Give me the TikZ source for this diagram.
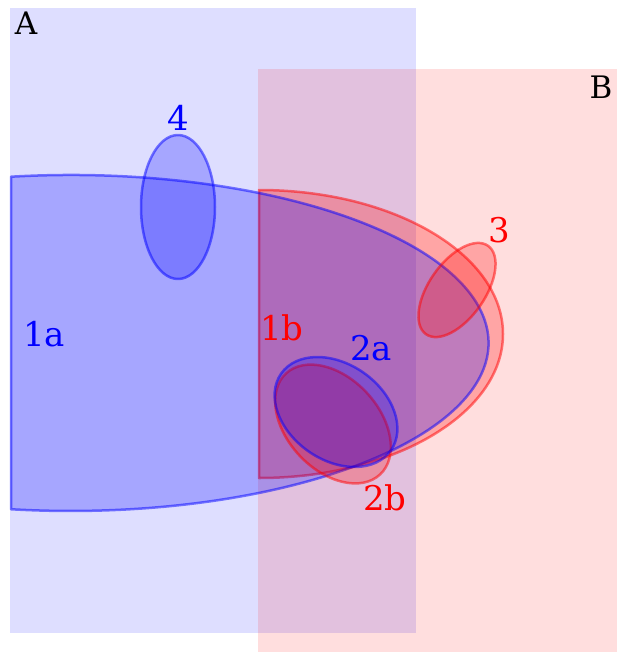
\documentclass[tikz,border=0pt]{standalone}
\usepackage{fontspec}
\setmainfont{DejaVu Serif}
\usepackage{tikz}
\usetikzlibrary{positioning}

\begin{document}
\begin{tikzpicture}[x=1pt, y=-1pt,
    setA/.style={fill=blue, fill opacity=0.13},
    setB/.style={fill=red, fill opacity=0.13},
    blueblob/.style={draw=blue, fill=blue, fill opacity=0.25, draw opacity=0.5, line width=2.5pt, line join=round},
    redblob/.style={draw=red, fill=red, fill opacity=0.26, draw opacity=0.5, line width=2.5pt, line join=round},
    lab/.style={anchor=base, inner sep=0pt, font=\fontsize{34}{34}\selectfont}]
  \useasboundingbox (0,0) rectangle (624,653);

  % the two sets
  \fill[setA] (10,8) rectangle (416,633);
  \fill[setB] (258,69) rectangle (617,652);
  \node[lab, font=\fontsize{31}{31}\selectfont] (labA) at (26,34) {A};
  \node[lab, font=\fontsize{31}{31}\selectfont] (labB) at (601,98) {B};

  % regions
  \draw[redblob] (259,190) arc[start angle=-90, end angle=90, x radius=244, y radius=144] -- cycle;
  \draw[blueblob] (11,176.7) arc[start angle=-98.2, end angle=98.2, x radius=418, y radius=168] -- cycle;
  \draw[blueblob] (178,207) ellipse[x radius=37, y radius=72];
  \draw[redblob, rotate around={55:(457,290)}] (457,290) ellipse[x radius=54, y radius=28];
  \draw[redblob, rotate around={-47:(333,424)}] (333,424) ellipse[x radius=69, y radius=46];
  \draw[blueblob, rotate around={-35:(336,412)}] (336,412) ellipse[x radius=67, y radius=48];

  % labels
  \node[lab, blue] (lab1a) at (44,346) {1a};
  \node[lab, red] (lab1b) at (282,340) {1b};
  \node[lab, blue] (lab2a) at (371,360) {2a};
  \node[lab, red] (lab2b) at (385,510) {2b};
  \node[lab, red] (lab3) at (499,242) {3};
  \node[lab, blue] (lab4) at (178,130) {4};
\end{tikzpicture}
\end{document}
